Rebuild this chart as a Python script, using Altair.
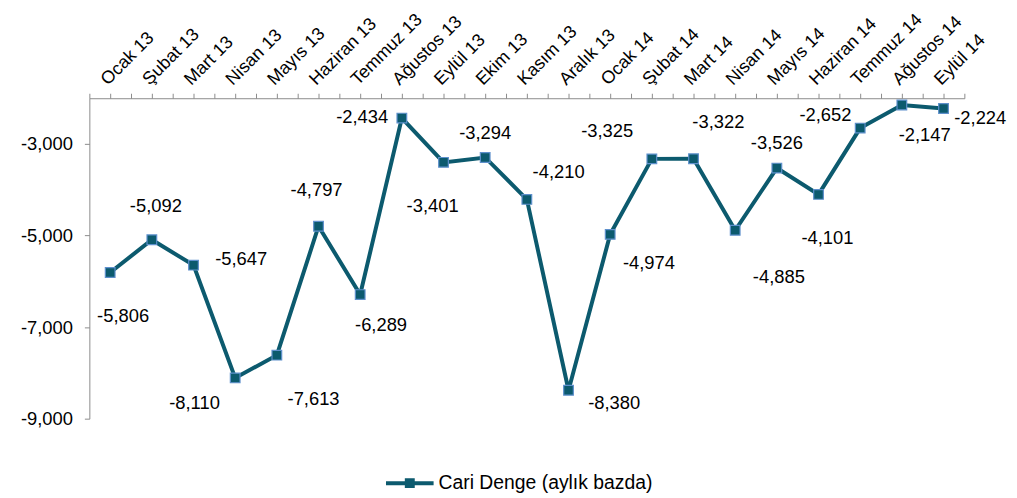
import altair as alt
import pandas as pd

months = ["Ocak 13", "Şubat 13", "Mart 13", "Nisan 13", "Mayıs 13", "Haziran 13",
          "Temmuz 13", "Ağustos 13", "Eylül 13", "Ekim 13", "Kasım 13", "Aralık 13",
          "Ocak 14", "Şubat 14", "Mart 14", "Nisan 14", "Mayıs 14", "Haziran 14",
          "Temmuz 14", "Ağustos 14", "Eylül 14"]
values = [-5806, -5092, -5647, -8110, -7613, -4797, -6289, -2434, -3401, -3294,
          -4210, -8380, -4974, -3325, -3322, -4885, -3526, -4101, -2652, -2147, -2224]
series_name = "Cari Denge (aylık bazda)"
y_ticks = [-9000, -7000, -5000, -3000]

# label placement (pixel offsets from each point) - styling only
label_dx = [13, 4, 48, -41, 37, -2, 21, -40, -11, 0, 32, 46, 39, -45, 25, 44, 0, 9, -35, 23, 37]
label_dy = [44, -34, -6, 25, 44, -37, 31, -1, 44, -25, -28, 13, 29, -28, -37, 47, -25, 44, -13, 30, 10]

df = pd.DataFrame({"month": months, "value": values, "series": series_name})

TEAL = "#0C5A6E"
FONT = "Liberation Sans"
GRAY = "#8C8C8C"

y_enc = alt.Y("value:Q",
              scale=alt.Scale(domain=[-9000, -2000], nice=False, zero=False),
              axis=alt.Axis(values=y_ticks, title=None, grid=False,
                            labelExpr="replace(format(datum.value, ',.0f'), '\u2212', '-')",
                            domainColor=GRAY, tickColor=GRAY, tickSize=5,
                            labelFontSize=18.5, labelFont=FONT, labelColor="black",
                            labelPadding=12))

x_scale = alt.Scale(type="band", paddingInner=0, paddingOuter=0)

base = alt.Chart(df).transform_calculate(
    label="replace(format(datum.value, ',.0f'), '\u2212', '-')"
)

line = base.mark_line(strokeWidth=4).encode(
    x=alt.X("month:N", sort=months, scale=x_scale,
            axis=alt.Axis(orient="top", labelAngle=-45, tickBand="extent", title=None,
                          domainColor=GRAY, tickColor=GRAY, tickSize=5,
                          labelFontSize=18, labelFont=FONT, labelColor="black",
                          labelPadding=5, grid=False)),
    y=y_enc,
    color=alt.Color("series:N", scale=alt.Scale(range=[TEAL]),
                    legend=alt.Legend(title=None, orient="none", legendX=297, legendY=362,
                                      symbolType="M-1,0H1M-0.125,-0.125H0.125V0.125H-0.125Z",
                                      symbolSize=2304, symbolStrokeWidth=4,
                                      symbolFillColor=TEAL, symbolStrokeColor=TEAL,
                                      labelFontSize=19.5, labelFont=FONT, labelColor="black",
                                      labelOffset=3, labelLimit=0, padding=0)),
)

points = base.mark_point(shape="square", filled=True, size=95, fill=TEAL,
                         stroke="#5E90CC", strokeWidth=1.2, opacity=1).encode(
    x=alt.X("month:N", sort=months, scale=x_scale,
            axis=alt.Axis(orient="top", labels=False, domain=False, title=None,
                          tickColor=GRAY, tickSize=5, grid=False)),
    y=y_enc,
)

layers = [line, points]
for m, dx, dy in zip(months, label_dx, label_dy):
    layers.append(
        base.transform_filter(alt.datum.month == m)
        .mark_text(dx=dx, dy=dy, fontSize=18.5, font=FONT, color="black")
        .encode(x=alt.X("month:N", sort=months, scale=x_scale, axis=None),
                y=y_enc,
                text="label:N")
    )

chart = alt.layer(*layers).resolve_axis(x="independent").properties(
    width=882, height=323,
    autosize=alt.AutoSizeParams(type="none"),
    padding={"left": 82, "top": 89, "right": 45, "bottom": 75},
).configure_view(stroke=None)

chart.save("out.html", embed_options={"renderer": "svg", "actions": False})
